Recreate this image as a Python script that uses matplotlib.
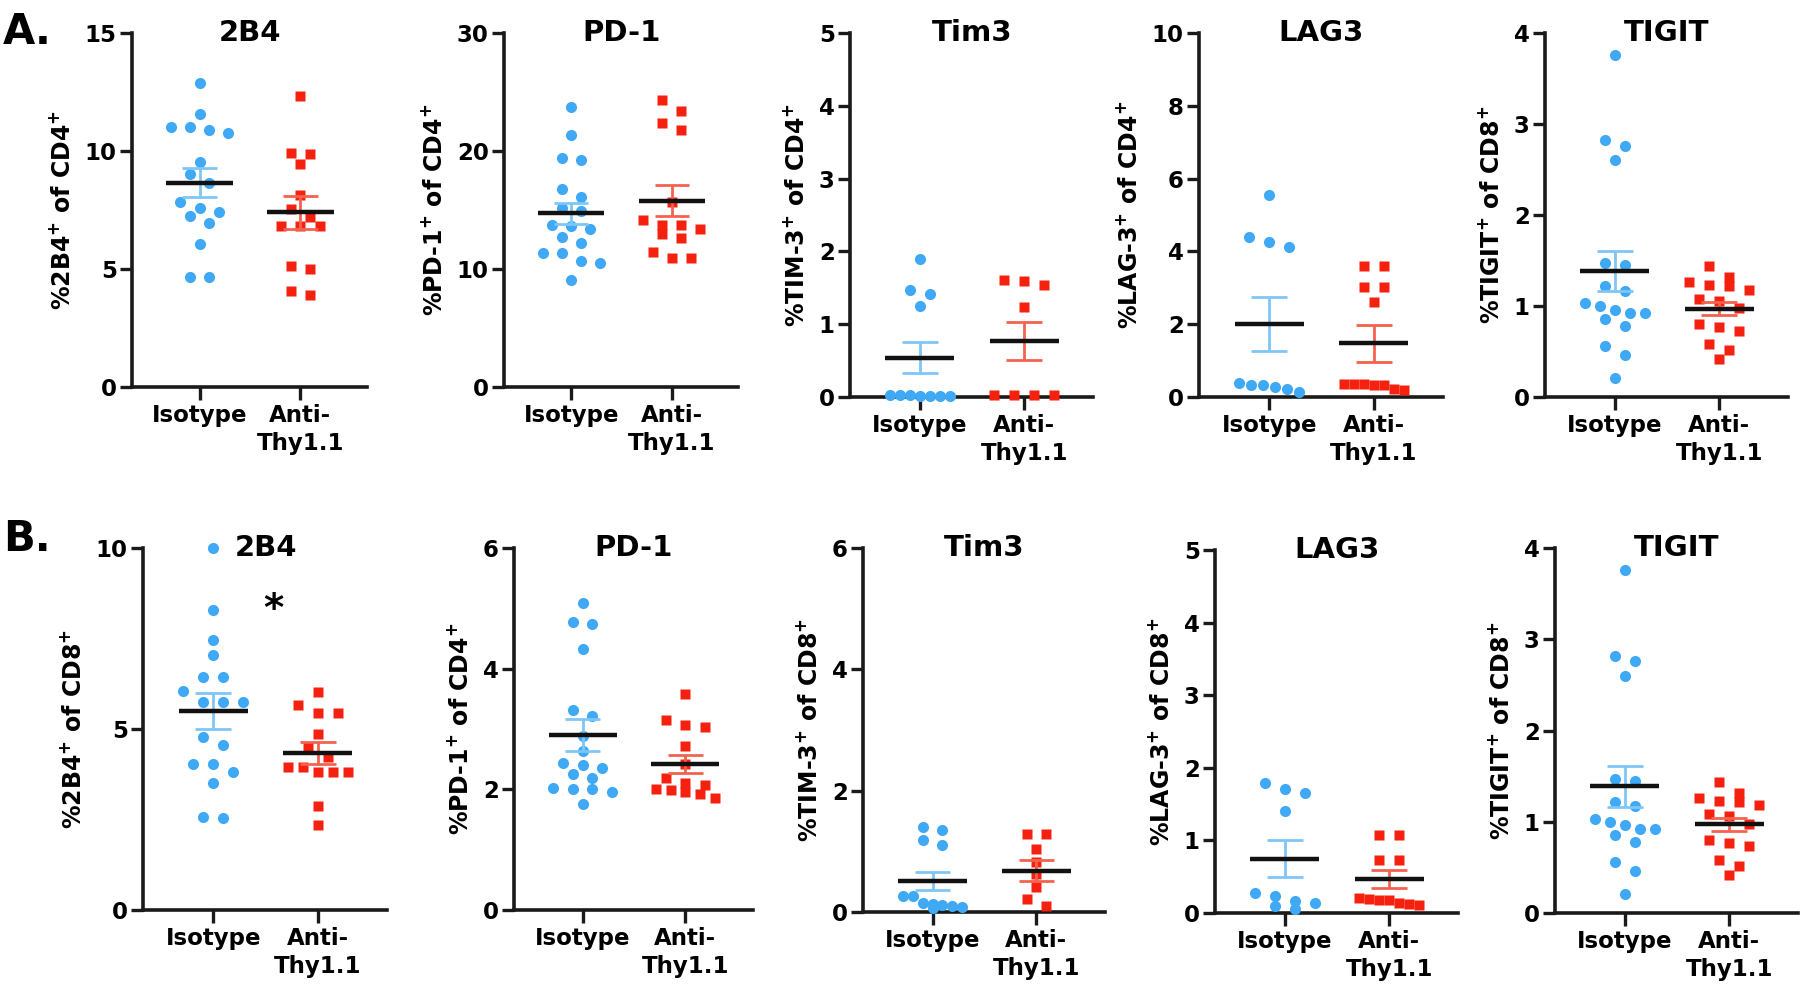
import numpy as np
import matplotlib
matplotlib.use("Agg")
import matplotlib.pyplot as plt

plt.rcParams['font.family'] = ['DejaVu Sans']
plt.rcParams['font.weight'] = 'bold'
plt.rcParams['mathtext.fontset'] = 'custom'
plt.rcParams['mathtext.rm'] = 'DejaVu Sans:bold'
plt.rcParams['mathtext.bf'] = 'DejaVu Sans:bold'
plt.rcParams['mathtext.default'] = 'rm'

# ---------------- data ----------------
groups = ["Isotype", "Anti-\nThy1.1"]
titles = ["2B4", "PD-1", "Tim3", "LAG3", "TIGIT"]
ylabels_A = [r"%2B4$^{+}$ of CD4$^{+}$", r"%PD-1$^{+}$ of CD4$^{+}$", r"%TIM-3$^{+}$ of CD4$^{+}$",
             r"%LAG-3$^{+}$ of CD4$^{+}$", r"%TIGIT$^{+}$ of CD8$^{+}$"]
ylabels_B = [r"%2B4$^{+}$ of CD8$^{+}$", r"%PD-1$^{+}$ of CD4$^{+}$", r"%TIM-3$^{+}$ of CD8$^{+}$",
             r"%LAG-3$^{+}$ of CD8$^{+}$", r"%TIGIT$^{+}$ of CD8$^{+}$"]
yticks_A = [[0, 5, 10, 15], [0, 10, 20, 30], [0, 1, 2, 3, 4, 5], [0, 2, 4, 6, 8, 10], [0, 1, 2, 3, 4]]
yticks_B = [[0, 5, 10], [0, 2, 4, 6], [0, 2, 4, 6], [0, 1, 2, 3, 4, 5], [0, 1, 2, 3, 4]]

# Row A (CD4 unless noted)
A_2B4_iso = [12.88, 11.57, 11.0, 11.0, 10.75, 10.87, 9.52, 9.03, 8.63, 7.85, 7.57, 7.43, 7.25, 6.93, 6.04, 4.64, 4.64]
A_2B4_thy = [12.35, 9.88, 9.93, 9.45, 8.14, 7.53, 7.22, 6.82, 6.82, 6.82, 5.02, 5.12, 3.89, 4.08]
A_PD1_iso = [23.77, 21.37, 19.22, 19.39, 16.78, 16.08, 15.2, 14.94, 13.64, 13.72, 13.36, 12.68, 12.22,
             11.32, 11.32, 10.70, 10.53, 9.06]
A_PD1_thy = [24.28, 23.35, 22.41, 21.79, 15.71, 14.15, 13.36, 13.72, 13.72, 12.6, 12.96, 10.9, 11.46, 10.9]
A_TIM3_iso = [1.89, 1.47, 1.42, 1.25, 0.02, 0.03, 0.02, 0.03, 0.02, 0.03, 0.02]
A_TIM3_thy = [1.61, 1.54, 1.59, 1.24, 0.03, 0.03, 0.03, 0.03]
A_LAG3_iso = [5.55, 4.40, 4.13, 4.27, 0.23, 0.39, 0.28, 0.32, 0.14, 0.32]
A_LAG3_thy = [3.6, 3.6, 3.01, 3.01, 2.61, 0.23, 0.32, 0.37, 0.32, 0.37, 0.2, 0.37]
TIGIT_iso = [3.76, 2.82, 2.76, 2.6, 1.47, 1.45, 1.22, 1.17, 1.03, 1.0, 0.92, 0.92, 0.96, 0.86, 0.78,
             0.56, 0.46, 0.21]
TIGIT_thy = [1.44, 1.32, 1.22, 1.23, 1.26, 1.18, 1.08, 1.06, 0.80, 0.73, 0.77, 0.58, 0.52, 0.42, 0.98]

# Row B
B_2B4_iso = [10.0, 8.3, 7.47, 7.04, 6.44, 6.44, 6.05, 5.75, 5.75, 5.75, 4.78, 4.55, 4.03, 4.03, 3.82,
             3.51, 2.53, 2.58]
B_2B4_thy = [6.03, 5.66, 5.45, 5.43, 4.85, 4.51, 4.23, 3.96, 3.96, 3.82, 3.82, 3.82, 2.87, 2.35]
B_PD1_iso = [5.09, 4.77, 4.74, 4.32, 3.31, 3.21, 2.89, 2.64, 2.44, 2.36, 2.41, 2.25, 2.18, 2.02, 2.0,
             2.0, 1.96, 1.75]
B_PD1_thy = [3.58, 3.15, 3.03, 3.07, 2.72, 2.42, 2.19, 2.11, 1.92, 2.0, 1.95, 1.99, 2.07, 1.85]
B_TIM3_iso = [1.40, 1.35, 1.18, 1.10, 0.10, 0.26, 0.08, 0.26, 0.15, 0.12, 0.06, 0.14]
B_TIM3_thy = [1.29, 1.29, 1.04, 0.82, 0.62, 0.42, 0.10, 0.22]
B_LAG3_iso = [1.71, 1.65, 1.79, 1.41, 0.23, 0.16, 0.28, 0.14, 0.06, 0.10]
B_LAG3_thy = [1.08, 1.08, 0.73, 0.73, 0.13, 0.18, 0.21, 0.19, 0.14, 0.11, 0.18]

# mean and SEM as shown
mean_A = [(8.66, 7.40), (14.72, 15.79), (0.54, 0.77), (2.0, 1.47), (1.387, 0.97)]
sem_A = [(0.60, 0.70), (0.90, 1.30), (0.21, 0.265), (0.74, 0.50), (0.22, 0.07)]
mean_B = [(5.50, 4.34), (2.90, 2.42), (0.51, 0.68), (0.75, 0.47), (1.387, 0.97)]
sem_B = [(0.50, 0.30), (0.265, 0.15), (0.15, 0.17), (0.25, 0.12), (0.22, 0.07)]

data_A = [(A_2B4_iso, A_2B4_thy), (A_PD1_iso, A_PD1_thy), (A_TIM3_iso, A_TIM3_thy),
          (A_LAG3_iso, A_LAG3_thy), (TIGIT_iso, TIGIT_thy)]
data_B = [(B_2B4_iso, B_2B4_thy), (B_PD1_iso, B_PD1_thy), (B_TIM3_iso, B_TIM3_thy),
          (B_LAG3_iso, B_LAG3_thy), (TIGIT_iso, TIGIT_thy)]

# ---------------- style ----------------
BLUE = '#3FA9F5'
RED = '#F5200E'
BLUE_EB = '#7EC6F7'
RED_EB = '#F4624F'
W, H = 1800, 998

fig = plt.figure(figsize=(W / 100, H / 100), dpi=100)

# axes boxes in pixels: left, right, top, bottom
boxes_A = [(132, 367, 33, 387), (504, 738, 33, 387), (850, 1093, 33, 397),
           (1199, 1443, 33, 397), (1545, 1788, 33, 397)]
boxes_B = [(143, 387, 548, 910), (514, 753, 548, 910), (863, 1105, 548, 912),
           (1215, 1458, 550, 913), (1555, 1798, 548, 913)]

XLIM = (-0.67, 1.66)
TICK_FS = 16.5


def swarm(vals, ppu, diam_px=11.0, step=0.19, maxspan=0.57):
    vals = np.asarray(vals, float)
    order = np.argsort(-vals, kind='stable')
    grps = []
    for i in order:
        if grps and (vals[grps[-1][0]] - vals[i]) * ppu < diam_px:
            grps[-1].append(i)
        else:
            grps.append([i])
    offs = np.zeros(len(vals))
    for g in grps:
        n = len(g)
        if n == 1:
            continue
        s = min(step, maxspan / (n - 1))
        for k, idx in enumerate(g):
            offs[idx] = (k - (n - 1) / 2) * s
    return offs


def panel(box, vals2, means, sems, yt, title, ylab):
    l, r, t, b = box
    ax = fig.add_axes([l / W, 1 - b / H, (r - l) / W, (b - t) / H])
    ymax = yt[-1]
    ax.set_xlim(*XLIM)
    ax.set_ylim(0, ymax)
    ppu = (b - t) / ymax
    for gi, (v, col, ecol, mk, ms) in enumerate(zip(vals2, (BLUE, RED), (BLUE_EB, RED_EB), ('o', 's'), (8.0, 7.6))):
        v = np.asarray(v, float)
        xs = gi + swarm(v, ppu)
        ax.plot(xs, v, ls='none', marker=mk, ms=ms, color=col, mec='none', clip_on=False, zorder=3)
        m, s = means[gi], sems[gi]
        ax.plot([gi, gi], [m - s, m + s], color=ecol, lw=2.0, zorder=4, solid_capstyle='butt')
        ax.plot([gi - 0.17, gi + 0.17], [m + s, m + s], color=ecol, lw=2.0, zorder=4, solid_capstyle='butt')
        ax.plot([gi - 0.17, gi + 0.17], [m - s, m - s], color=ecol, lw=2.0, zorder=4, solid_capstyle='butt')
        ax.plot([gi - 0.33, gi + 0.33], [m, m], color='#111111', lw=3.2, zorder=5, solid_capstyle='butt')
    for sp in ('top', 'right'):
        ax.spines[sp].set_visible(False)
    for sp in ('left', 'bottom'):
        ax.spines[sp].set_linewidth(2.6)
        ax.spines[sp].set_color('#1a1a1a')
    ax.set_yticks(yt)
    ax.set_xticks([0, 1])
    ax.set_xticklabels(groups, fontsize=TICK_FS, fontweight='bold', linespacing=1.3)
    ax.tick_params(axis='both', length=9, width=2.4, color='#1a1a1a', labelsize=TICK_FS)
    ax.tick_params(axis='x', pad=3)
    ax.tick_params(axis='y', pad=2)
    for lab in ax.get_yticklabels():
        lab.set_fontweight('bold')
    ax.set_ylabel(ylab, fontsize=17, fontweight='bold', labelpad=7)
    ax.text(0.5, ymax, title, ha='center', va='center', fontsize=21, fontweight='bold', zorder=6)
    return ax


axesA = []
for i in range(5):
    axesA.append(panel(boxes_A[i], data_A[i], mean_A[i], sem_A[i], yticks_A[i], titles[i], ylabels_A[i]))
axesB = []
for i in range(5):
    axesB.append(panel(boxes_B[i], data_B[i], mean_B[i], sem_B[i], yticks_B[i], titles[i], ylabels_B[i]))

# significance star
axesB[0].text(0.58, 8.3, '*', ha='center', va='center', fontsize=28, fontweight='bold')

fig.text(3 / W, 1 - 44 / H, 'A.', fontsize=30, fontweight='bold', va='baseline', ha='left')
fig.text(3 / W, 1 - 551 / H, 'B.', fontsize=30, fontweight='bold', va='baseline', ha='left')

fig.savefig('out.png', dpi=100)
